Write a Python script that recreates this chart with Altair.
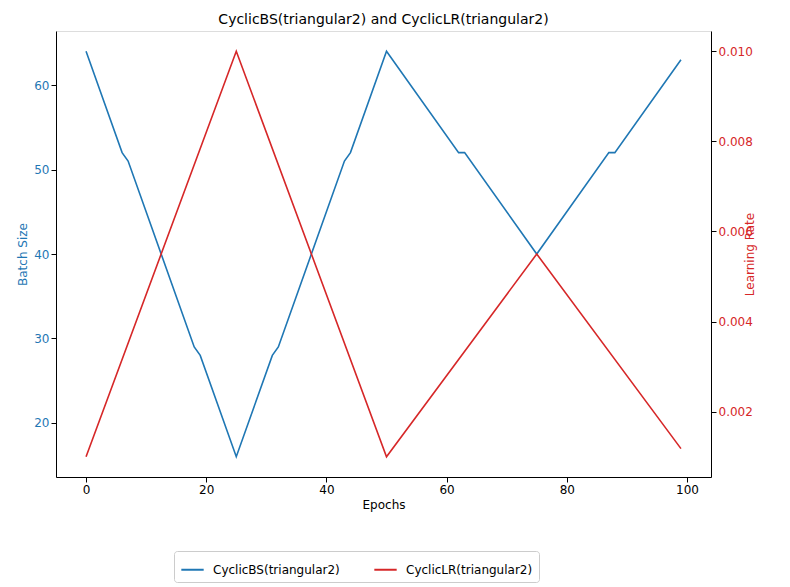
import pandas as pd
import altair as alt

# key points (line is straight between them)
bs_epochs = [0, 6, 7, 18, 19, 25, 31, 32, 43, 44, 50, 62, 63, 75, 87, 88, 99]
bs_values = [64, 52, 51, 29, 28, 16, 28, 29, 51, 52, 64, 52, 52, 40, 52, 52, 63]

lr_epochs = [0, 25, 50, 75, 99]
lr_values = [0.001, 0.01, 0.001, 0.0055, 0.00118]

bs_df = pd.DataFrame({'Epochs': bs_epochs, 'value': bs_values, 'series': 'CyclicBS(triangular2)'})
lr_df = pd.DataFrame({'Epochs': lr_epochs, 'value': lr_values, 'series': 'CyclicLR(triangular2)'})

blue = '#1f77b4'
red = '#d62728'

color = alt.Color('series:N',
                  scale=alt.Scale(domain=['CyclicBS(triangular2)', 'CyclicLR(triangular2)'], range=[blue, red]),
                  legend=alt.Legend(title=None, orient='none', direction='horizontal',
                                    legendX=118, legendY=520, strokeColor='#cccccc',
                                    padding=6, labelFontSize=12, symbolType='stroke',
                                    symbolSize=500, symbolStrokeWidth=2, columnPadding=30,
                                    labelOffset=8, cornerRadius=3))

x = alt.X('Epochs:Q', scale=alt.Scale(domain=[-5, 104], nice=False, zero=False),
          axis=alt.Axis(values=[0, 20, 40, 60, 80, 100], grid=False, title='Epochs',
                        titleFontWeight='normal', titleFontSize=12, labelFontSize=12,
                        tickColor='black', domainColor='black', labelColor='black'))

bs = alt.Chart(bs_df).mark_line(strokeWidth=1.6).encode(
    x=x,
    y=alt.Y('value:Q', scale=alt.Scale(domain=[13.6, 66.4], nice=False, zero=False),
            axis=alt.Axis(values=[20, 30, 40, 50, 60], grid=False, title='Batch Size',
                          titleColor=blue, labelColor=blue, titleFontWeight='normal',
                          titleFontSize=12, labelFontSize=12, tickColor='black', domainColor='black')),
    color=color
)

lr = alt.Chart(lr_df).mark_line(strokeWidth=1.6).encode(
    x=x,
    y=alt.Y('value:Q', scale=alt.Scale(domain=[0.00055, 0.01045], nice=False, zero=False),
            axis=alt.Axis(orient='right', values=[0.002, 0.004, 0.006, 0.008, 0.010], format='.3f',
                          grid=False, title='Learning Rate', titleColor=red, labelColor=red,
                          titleAngle=270, titleFontWeight='normal', titleFontSize=12,
                          labelFontSize=12, tickColor='black', domainColor='black')),
    color=color
)

chart = alt.layer(bs, lr).resolve_scale(y='independent').properties(
    width=655, height=446,
    title=alt.TitleParams('CyclicBS(triangular2) and CyclicLR(triangular2)',
                          fontSize=14, fontWeight='normal'),
    padding={'left': 8, 'top': 5, 'right': 5, 'bottom': 5}
).configure_view(stroke='black').configure(font='DejaVu Sans')

chart.save("out.html", embed_options={"renderer": "svg", "actions": False})
